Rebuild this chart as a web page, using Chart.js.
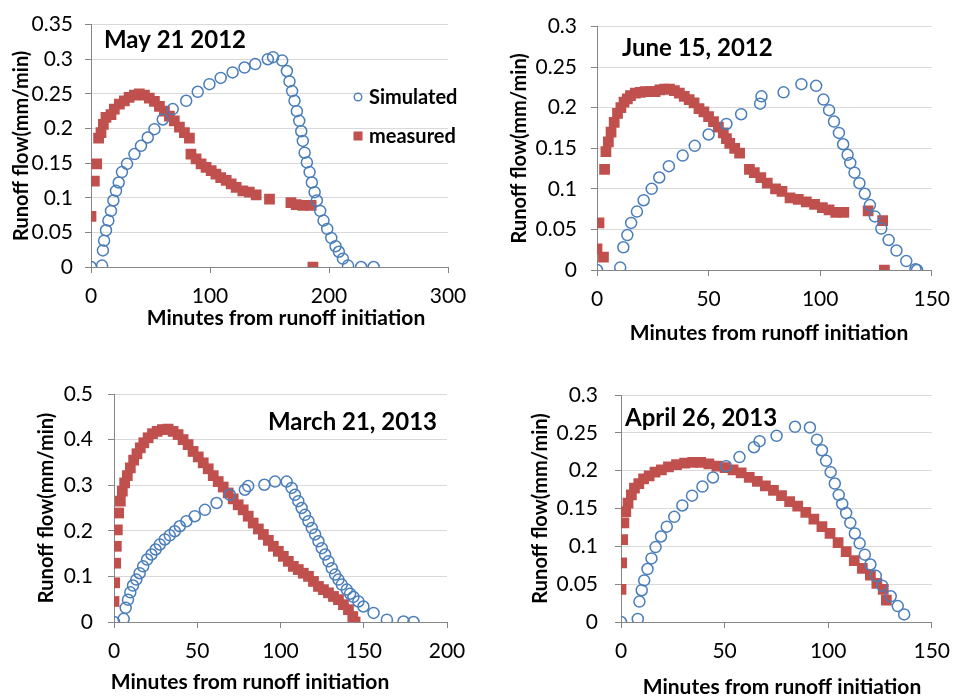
<!DOCTYPE html>
<html lang="en">
<head>
<meta charset="UTF-8">
<title>Runoff flow - simulated vs measured</title>
<script src="https://cdn.jsdelivr.net/npm/chart.js"></script>
<style>
  body { margin: 0; background: #fff; }
  #wrap { position: relative; width: 961px; height: 696px; overflow: hidden; }
  canvas { position: absolute; }
</style>
</head>
<body>
<div id="wrap">
  <canvas id="c1" width="480" height="345" style="left:0;top:0"></canvas>
  <canvas id="c2" width="481" height="345" style="left:480px;top:0"></canvas>
  <canvas id="c3" width="480" height="346" style="left:0;top:350px"></canvas>
  <canvas id="c4" width="481" height="346" style="left:480px;top:350px"></canvas>
</div>
<script>
// May 21 2012
const maySimX = [0, 9.3, 10, 11, 12.6, 14.6, 16.8, 18.8, 21, 23.3, 26, 30.3, 36.5, 42, 47.7, 53.3, 60.3, 68.7, 80, 89.7, 99.5, 109, 119, 129, 138, 148.6, 153, 160.7, 164.6, 166.8, 169, 171, 173, 175, 176.7, 178, 179.5, 181.4, 183.7, 185.6, 187.9, 189.8, 192.6, 195.4, 198.5, 201.9, 205.5, 208.3, 211.7, 216, 227, 237.5];
const maySimY = [0, 0.002, 0.024, 0.038, 0.053, 0.067, 0.081, 0.096, 0.11, 0.122, 0.137, 0.149, 0.163, 0.175, 0.187, 0.199, 0.213, 0.228, 0.24, 0.253, 0.264, 0.273, 0.281, 0.288, 0.293, 0.3, 0.303, 0.298, 0.283, 0.268, 0.254, 0.24, 0.225, 0.211, 0.196, 0.182, 0.165, 0.151, 0.137, 0.122, 0.108, 0.096, 0.081, 0.067, 0.055, 0.042, 0.03, 0.022, 0.012, 0.002, 0, 0];
const mayMeasX = [0, 2.8, 4.8, 6.4, 8.4, 10.4, 12.6, 16.8, 19.6, 23.8, 28, 32, 36.5, 40.6, 44.9, 49, 53.3, 57.5, 61.7, 65.9, 70, 74.3, 78.5, 82.7, 84, 88.3, 92.5, 96.7, 101, 105, 109, 113.6, 117.8, 122, 127.6, 133, 138.8, 150, 168, 172.4, 178, 185, 186.5];
const mayMeasY = [0.073, 0.124, 0.149, 0.186, 0.194, 0.206, 0.216, 0.22, 0.228, 0.235, 0.24, 0.245, 0.248, 0.25, 0.248, 0.244, 0.239, 0.232, 0.225, 0.218, 0.211, 0.202, 0.194, 0.186, 0.163, 0.156, 0.149, 0.144, 0.139, 0.134, 0.129, 0.125, 0.12, 0.115, 0.11, 0.108, 0.104, 0.098, 0.093, 0.09, 0.089, 0.089, 0];

// June 15, 2012
const juneSimX = [0, 10.4, 11.8, 13.6, 15.3, 17.9, 20.9, 24.5, 27.9, 32.2, 38.4, 43.8, 50, 58, 64.6, 73.1, 73.7, 83.6, 91.6, 98.2, 101.5, 104, 106.2, 108.4, 110.3, 112.3, 113.5, 115.4, 117.6, 120, 122.3, 124.5, 127.4, 130.7, 134.2, 138.6, 142.7, 143.4];
const juneSimY = [0, 0.003, 0.028, 0.043, 0.058, 0.072, 0.086, 0.1, 0.114, 0.128, 0.141, 0.153, 0.167, 0.18, 0.192, 0.205, 0.214, 0.219, 0.229, 0.227, 0.21, 0.197, 0.183, 0.169, 0.155, 0.142, 0.132, 0.12, 0.107, 0.094, 0.08, 0.066, 0.051, 0.037, 0.024, 0.011, 0.001, 0];
const juneMeasX = [0, 0.9, 2.9, 3.4, 4, 5.1, 6.3, 7.7, 9.2, 10.7, 12.1, 13.6, 15, 17.2, 19.4, 21.6, 23.8, 26, 28.2, 30.3, 32.5, 34.7, 36.9, 39.1, 41.3, 43.5, 45.7, 47.9, 50, 52.2, 54.4, 56.6, 58, 59.5, 61.7, 63.9, 68.3, 70.5, 73.4, 76.3, 80, 82.9, 86.5, 90.2, 93.8, 97.5, 101, 104, 107, 110.6, 121.5, 128, 128.8];
const juneMeasY = [0.026, 0.058, 0.016, 0.124, 0.146, 0.158, 0.17, 0.182, 0.193, 0.2, 0.207, 0.211, 0.215, 0.218, 0.219, 0.22, 0.22, 0.22, 0.222, 0.223, 0.223, 0.221, 0.218, 0.214, 0.21, 0.206, 0.199, 0.195, 0.189, 0.183, 0.176, 0.169, 0.162, 0.156, 0.15, 0.144, 0.124, 0.12, 0.114, 0.107, 0.1, 0.097, 0.089, 0.087, 0.084, 0.081, 0.077, 0.074, 0.071, 0.071, 0.073, 0.061, 0];

// March 21, 2013
const marchSimX = [0, 5.8, 7, 8.4, 9.8, 11.4, 13.4, 15.4, 17.5, 19.9, 22.5, 25, 27.5, 30.5, 33.5, 36.5, 39.5, 43.5, 48.5, 54.6, 61.6, 69.6, 78.6, 80.6, 90.3, 96.7, 103.7, 106.7, 108.7, 110.7, 112.7, 114.7, 116.8, 118.8, 120.8, 122.8, 124.8, 126.8, 128.8, 130.8, 132.8, 134.8, 136.8, 139.8, 141.8, 143.8, 146.8, 149.8, 155.9, 163.9, 173.9, 179.9];
const marchSimY = [0, 0.007, 0.031, 0.049, 0.065, 0.08, 0.093, 0.107, 0.122, 0.137, 0.148, 0.159, 0.17, 0.181, 0.19, 0.199, 0.21, 0.221, 0.232, 0.246, 0.261, 0.279, 0.29, 0.298, 0.301, 0.308, 0.308, 0.294, 0.279, 0.265, 0.25, 0.235, 0.221, 0.206, 0.192, 0.177, 0.162, 0.148, 0.133, 0.118, 0.104, 0.093, 0.082, 0.071, 0.062, 0.055, 0.045, 0.034, 0.02, 0.005, 0.001, 0];
const marchMeasX = [0, 0.4, 1, 1.4, 2, 2.8, 3.8, 5, 6.4, 8, 9.8, 11.8, 13.8, 15.8, 17.9, 20.5, 23.1, 25.9, 29.1, 32.5, 35.5, 38.5, 41.5, 44.5, 47.5, 50.6, 53.6, 56.6, 59.6, 62.6, 65.6, 68.6, 71.6, 74.6, 77.6, 80.6, 83.6, 86.7, 89.7, 92.7, 95.7, 98.7, 101.7, 104.7, 107.7, 110.7, 113.7, 116.8, 119.8, 122.8, 125.8, 128.8, 131.8, 134.8, 137.8, 140.8, 143.4, 144.8];
const marchMeasY = [0.045, 0.086, 0.129, 0.166, 0.202, 0.239, 0.265, 0.287, 0.305, 0.321, 0.338, 0.355, 0.369, 0.382, 0.393, 0.404, 0.413, 0.418, 0.422, 0.423, 0.418, 0.411, 0.4, 0.389, 0.374, 0.362, 0.349, 0.336, 0.321, 0.308, 0.296, 0.283, 0.27, 0.257, 0.246, 0.232, 0.217, 0.204, 0.192, 0.179, 0.166, 0.155, 0.144, 0.133, 0.122, 0.115, 0.107, 0.1, 0.089, 0.078, 0.071, 0.064, 0.056, 0.049, 0.038, 0.027, 0.012, 0];

// April 26, 2013
const aprilSimX = [0, 8.1, 8.9, 10, 11.2, 12.8, 14.7, 16.7, 19.3, 22.1, 25.7, 29.6, 34.3, 39.3, 44.4, 50.7, 57.2, 64.2, 66.9, 75.1, 84, 91.2, 94.6, 97, 99, 101.2, 103.2, 105.1, 106.8, 108.7, 110.7, 112.9, 115.2, 117.7, 120.4, 123, 126.1, 130.2, 133.6, 136.7];
const aprilSimY = [0, 0.004, 0.027, 0.042, 0.055, 0.07, 0.084, 0.099, 0.113, 0.126, 0.139, 0.154, 0.167, 0.179, 0.191, 0.206, 0.218, 0.231, 0.239, 0.246, 0.258, 0.257, 0.241, 0.227, 0.213, 0.198, 0.183, 0.168, 0.156, 0.144, 0.131, 0.117, 0.104, 0.089, 0.076, 0.061, 0.048, 0.034, 0.021, 0.01];
const aprilMeasX = [0, 0.3, 0.8, 1.4, 2.3, 3.4, 5, 6.5, 8.6, 10.9, 13.6, 16.4, 19.5, 22.9, 26.8, 30.7, 34.6, 38.5, 42.4, 46.3, 50.2, 54.1, 58, 61.9, 65.8, 69.7, 73.6, 77.5, 81.4, 85.3, 89.2, 93.1, 97, 100.9, 104.8, 108.7, 112.6, 116.5, 120.4, 123.5, 126.6, 128.1];
const aprilMeasY = [0.043, 0.078, 0.109, 0.131, 0.146, 0.157, 0.168, 0.177, 0.183, 0.189, 0.193, 0.198, 0.201, 0.205, 0.208, 0.21, 0.211, 0.211, 0.209, 0.206, 0.204, 0.201, 0.197, 0.191, 0.186, 0.18, 0.174, 0.167, 0.159, 0.153, 0.145, 0.136, 0.126, 0.117, 0.105, 0.093, 0.081, 0.071, 0.062, 0.051, 0.043, 0.029];

const simColor = '#4a7ebb';
const measColor = '#c0504d';
const fontFam = 'Lato, "DejaVu Sans", sans-serif';

function toPoints(xs, ys) {
  return xs.map((x, i) => ({ x: x, y: ys[i] }));
}

// draws free text (dates, x axis titles) and the in-plot legend
const notesPlugin = {
  id: 'notes',
  afterDraw(chart, args, opts) {
    const ctx = chart.ctx;
    ctx.save();
    ctx.fillStyle = '#000';
    ctx.textBaseline = 'middle';
    (opts.items || []).forEach(it => {
      ctx.font = it.font;
      ctx.textAlign = it.align || 'left';
      ctx.fillText(it.text, it.x, it.y);
    });
    if (opts.legend) {
      const lg = opts.legend;
      ctx.font = lg.font;
      ctx.textAlign = 'left';
      chart.data.datasets.forEach((ds, i) => {
        const y = lg.y + i * lg.gap;
        if (ds.pointStyle === 'circle') {
          ctx.beginPath();
          ctx.arc(lg.x, y, 3.8, 0, Math.PI * 2);
          ctx.strokeStyle = ds.borderColor;
          ctx.lineWidth = 1.4;
          ctx.stroke();
        } else {
          ctx.fillStyle = ds.backgroundColor;
          ctx.fillRect(lg.x - 4.5, y - 4.5, 9, 9);
        }
        ctx.fillStyle = '#000';
        ctx.fillText(ds.label, lg.x + 11, y + 1);
      });
    }
    ctx.restore();
  }
};

function makeChart(id, sim, meas, ax, notes) {
  return new Chart(document.getElementById(id), {
    type: 'scatter',
    data: {
      datasets: [
        { label: 'Simulated', data: sim, pointStyle: 'circle', pointRadius: 5.5,
          borderColor: simColor, backgroundColor: 'rgba(0,0,0,0)', borderWidth: 1.5 },
        { label: 'measured', data: meas, pointStyle: 'rect', pointRadius: 7.6,
          borderColor: measColor, backgroundColor: measColor, borderWidth: 0 }
      ]
    },
    options: {
      responsive: false,
      animation: false,
      layout: { padding: { top: ax.top, right: ax.right, left: 0, bottom: 0 } },
      plugins: { legend: { display: false }, tooltip: { enabled: false }, notes: notes },
      scales: {
        x: {
          type: 'linear', min: 0, max: ax.xMax,
          ticks: { stepSize: ax.xStep, padding: 11, color: '#000', font: { family: fontFam, size: 21 } },
          grid: { drawOnChartArea: false, tickLength: 6, color: '#868686' },
          border: { color: '#868686' },
          afterFit: s => { s.height = ax.xH; }
        },
        y: {
          type: 'linear', min: 0, max: ax.yMax,
          ticks: { stepSize: ax.yStep, padding: ax.yPad, color: '#000', font: { family: fontFam, size: 21 },
                   callback: v => String(Math.round(v * 100) / 100) },
          grid: { color: '#d9d9d9', tickLength: 6, tickColor: '#868686' },
          border: { color: '#868686' },
          title: { display: true, text: 'Runoff flow(mm/min)', color: '#000',
                   font: { family: fontFam, size: 20, weight: 'bold' }, padding: { top: ax.yTitle, bottom: 0 } },
          afterFit: s => { s.width = ax.yW; }
        }
      }
    },
    plugins: [notesPlugin]
  });
}

const boldTitle = 'bold 21px ' + fontFam;
const dateFont = 'bold 24px ' + fontFam;

makeChart('c1', toPoints(maySimX, maySimY), toPoints(mayMeasX, mayMeasY),
  { xMax: 300, xStep: 100, yMax: 0.35, yStep: 0.05, top: 23, right: 32, xH: 78, yW: 91, yPad: 12, yTitle: 10 },
  { items: [
      { text: 'May 21 2012', x: 104, y: 40, font: dateFont },
      { text: 'Minutes from runoff initiation', x: 286, y: 318, font: boldTitle, align: 'center' }
    ],
    legend: { x: 358, y: 97, gap: 39, font: 'bold 20px ' + fontFam } });

makeChart('c2', toPoints(juneSimX, juneSimY), toPoints(juneMeasX, juneMeasY),
  { xMax: 150, xStep: 50, yMax: 0.3, yStep: 0.05, top: 23, right: 21, xH: 75, yW: 117, yPad: 14, yTitle: 28 },
  { items: [
      { text: 'June 15, 2012', x: 142, y: 48, font: dateFont },
      { text: 'Minutes from runoff initiation', x: 289, y: 333, font: boldTitle, align: 'center' }
    ] });

makeChart('c3', toPoints(marchSimX, marchSimY), toPoints(marchMeasX, marchMeasY),
  { xMax: 200, xStep: 50, yMax: 0.5, yStep: 0.1, top: 44, right: 33, xH: 74, yW: 114, yPad: 15, yTitle: 35 },
  { items: [
      { text: 'March 21, 2013', x: 437, y: 72, font: dateFont, align: 'right' },
      { text: 'Minutes from runoff initiation', x: 250, y: 332, font: boldTitle, align: 'center' }
    ] });

makeChart('c4', toPoints(aprilSimX, aprilSimY), toPoints(aprilMeasX, aprilMeasY),
  { xMax: 150, xStep: 50, yMax: 0.3, yStep: 0.05, top: 45, right: 19, xH: 74, yW: 141, yPad: 17, yTitle: 49 },
  { items: [
      { text: 'April 26, 2013', x: 145, y: 68, font: dateFont },
      { text: 'Minutes from runoff initiation', x: 302, y: 337, font: boldTitle, align: 'center' }
    ] });
</script>
</body>
</html>
